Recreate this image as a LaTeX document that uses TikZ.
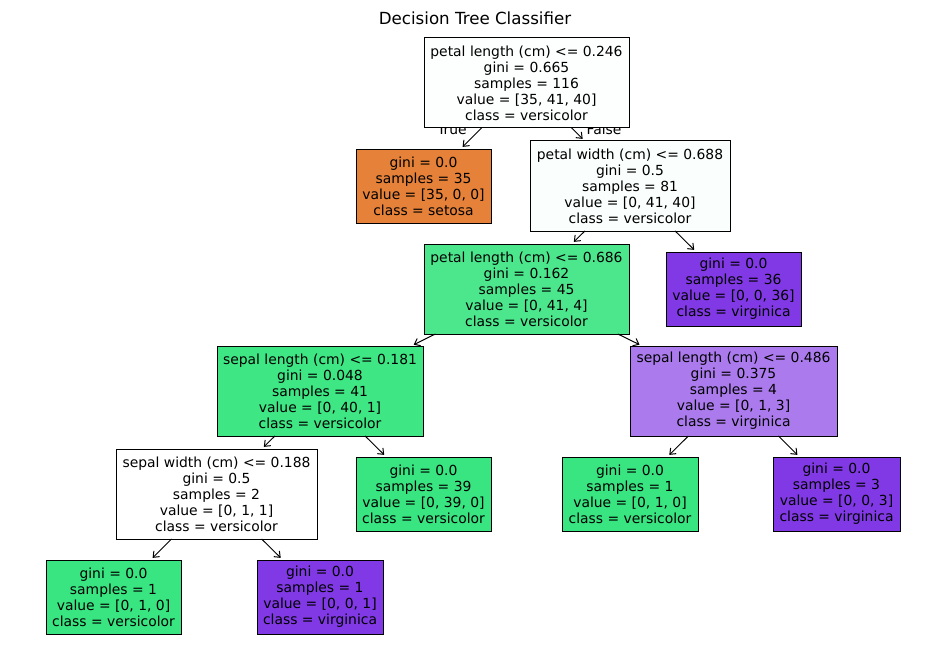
\documentclass[tikz,border=0pt]{standalone}
\usepackage{fontspec}
\setmainfont{DejaVu Sans}
\usetikzlibrary{arrows.meta}
\definecolor{cRoot}{RGB}{252,255,253}
\definecolor{cPW}{RGB}{250,254,252}
\definecolor{cPL}{RGB}{76,231,141}
\definecolor{cSLa}{RGB}{62,230,132}
\definecolor{cSLb}{RGB}{171,123,238}
\definecolor{cSet}{RGB}{229,129,57}
\definecolor{cVer}{RGB}{57,229,129}
\definecolor{cVir}{RGB}{129,57,229}
\tikzset{
  tbox/.style={draw=black, line width=1pt, inner sep=0pt, outer sep=0pt, align=center,
    font=\fontsize{13.89}{16}\selectfont, text=black},
  inner/.style={tbox, minimum height=90pt},
  leaf/.style={tbox, minimum height=74pt},
  edge/.style={-{Straight Barb[length=5pt,width=8pt]}, line width=1pt, shorten >=3pt},
  lbl/.style={font=\fontsize{13.89}{16}\selectfont, inner sep=0pt, anchor=base}
}
\begin{document}
\begin{tikzpicture}[x=1pt,y=-1pt]
\useasboundingbox[fill=white] (0,0) rectangle (950,658);
\node[font=\fontsize{16.67}{19}\selectfont] (title) at (475,18) {Decision Tree Classifier};
\node[lbl] (tl) at (452,135) {True};
\node[lbl] (fl) at (604,135) {False};
\node[inner, fill=cRoot, minimum width=205pt] (root) at (526.5,83) {petal length (cm) <= 0.246\\gini = 0.665\\samples = 116\\value = [35, 41, 40]\\class = versicolor};
\node[leaf, fill=cSet, minimum width=135pt] (set) at (423.5,186) {gini = 0.0\\samples = 35\\value = [35, 0, 0]\\class = setosa};
\node[inner, fill=cPW, minimum width=200pt] (pw) at (630,186) {petal width (cm) <= 0.688\\gini = 0.5\\samples = 81\\value = [0, 41, 40]\\class = versicolor};
\node[inner, fill=cPL, minimum width=205pt] (pl) at (526.5,289) {petal length (cm) <= 0.686\\gini = 0.162\\samples = 45\\value = [0, 41, 4]\\class = versicolor};
\node[leaf, fill=cVir, minimum width=135pt] (v36) at (733.5,289) {gini = 0.0\\samples = 36\\value = [0, 0, 36]\\class = virginica};
\node[inner, fill=cSLa, minimum width=206pt] (sla) at (320,391) {sepal length (cm) <= 0.181\\gini = 0.048\\samples = 41\\value = [0, 40, 1]\\class = versicolor};
\node[inner, fill=cSLb, minimum width=207pt] (slb) at (733.5,391) {sepal length (cm) <= 0.486\\gini = 0.375\\samples = 4\\value = [0, 1, 3]\\class = virginica};
\node[inner, fill=white, minimum width=201pt] (sw) at (216.5,494) {sepal width (cm) <= 0.188\\gini = 0.5\\samples = 2\\value = [0, 1, 1]\\class = versicolor};
\node[leaf, fill=cVer, minimum width=135pt] (l39) at (423.5,494) {gini = 0.0\\samples = 39\\value = [0, 39, 0]\\class = versicolor};
\node[leaf, fill=cVer, minimum width=136pt] (lr1) at (630,494) {gini = 0.0\\samples = 1\\value = [0, 1, 0]\\class = versicolor};
\node[leaf, fill=cVir, minimum width=127pt] (lr3) at (836.5,494) {gini = 0.0\\samples = 3\\value = [0, 0, 3]\\class = virginica};
\node[leaf, fill=cVer, minimum width=135pt] (ll1) at (113.5,597) {gini = 0.0\\samples = 1\\value = [0, 1, 0]\\class = versicolor};
\node[leaf, fill=cVir, minimum width=126pt] (ll2) at (320,597) {gini = 0.0\\samples = 1\\value = [0, 0, 1]\\class = virginica};
\draw[edge] (root) -- (set);
\draw[edge] (root) -- (pw);
\draw[edge] (pw) -- (pl);
\draw[edge] (pw) -- (v36);
\draw[edge] (pl) -- (sla);
\draw[edge] (pl) -- (slb);
\draw[edge] (sla) -- (sw);
\draw[edge] (sla) -- (l39);
\draw[edge] (slb) -- (lr1);
\draw[edge] (slb) -- (lr3);
\draw[edge] (sw) -- (ll1);
\draw[edge] (sw) -- (ll2);
\end{tikzpicture}
\end{document}
